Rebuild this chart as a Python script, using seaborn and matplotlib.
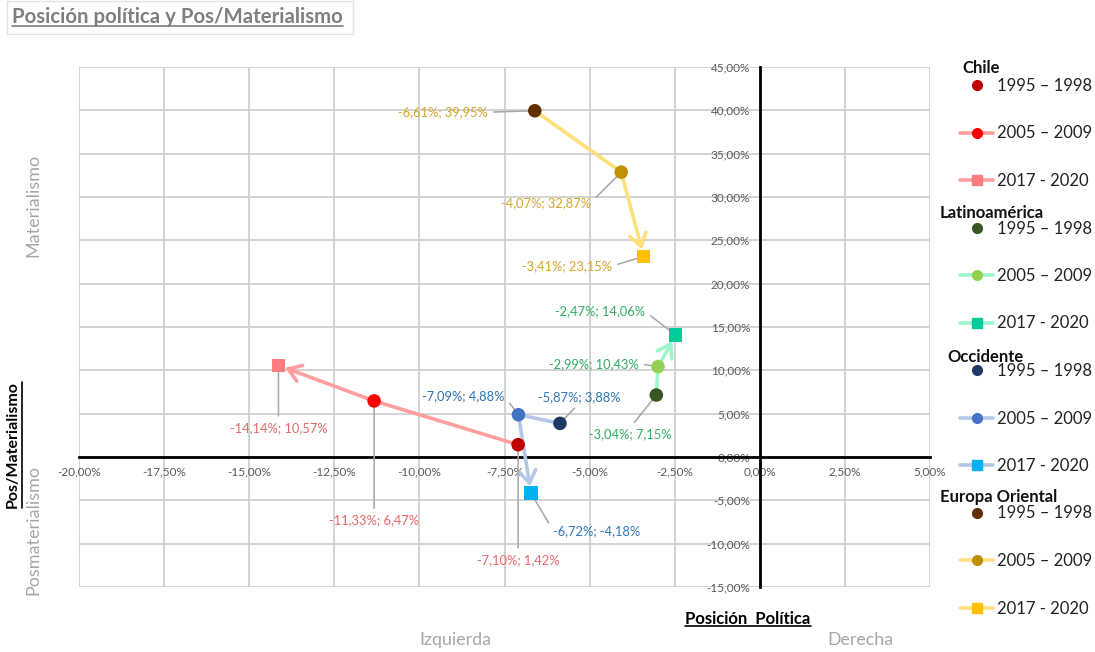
import matplotlib
matplotlib.use("Agg")
import matplotlib.pyplot as plt
import seaborn as sns
import pandas as pd
from matplotlib.lines import Line2D
from matplotlib.patches import Rectangle
from matplotlib.ticker import FuncFormatter, MultipleLocator

# ---------------- data ----------------
groups = ["Chile", "Latinoamérica", "Occidente", "Europa Oriental"]
periods = ["1995 – 1998", "2005 – 2009", "2017 - 2020"]
chile_x = [-7.10, -11.33, -14.14]
chile_y = [1.42, 6.47, 10.57]
latam_x = [-3.04, -2.99, -2.47]
latam_y = [7.15, 10.43, 14.06]
occ_x = [-5.87, -7.09, -6.72]
occ_y = [3.88, 4.88, -4.18]
eur_x = [-6.61, -4.07, -3.41]
eur_y = [39.95, 32.87, 23.15]
xs = [chile_x, latam_x, occ_x, eur_x]
ys = [chile_y, latam_y, occ_y, eur_y]

# ---------------- styles ----------------
marker_colors = [["#C00000", "#FF0000", "#FF7C80"],
                 ["#375623", "#92D050", "#00CC99"],
                 ["#203864", "#4472C4", "#00B0F0"],
                 ["#603000", "#BF9000", "#FFC000"]]
line_colors = ["#FF9E9E", "#9EF7CB", "#B4C7E7", "#FFE07A"]
label_colors = ["#E8666A", "#2EAE62", "#2E75B6", "#D6A52A"]
# label offsets (points) and alignment per point
label_pos = [
    [((0, -83), "center", (0.5, 1.0)), ((0, -86), "center", (0.5, 1.0)), ((0, -45), "center", (0.5, 1.0))],
    [((-19, -28), "center", (0.5, 1.0)), ((-14, 2), "right", (1.0, 0.5)), ((-22, 17), "right", (1.0, 0.5))],
    [((14, 19), "center", (0.5, 0.0)), ((-10, 13), "right", (1.0, 0.5)), ((16, -27), "left", (0.0, 0.5))],
    [((-34, -1), "right", (1.0, 0.5)), ((-22, -22), "right", (1.0, 0.5)), ((-23, -7), "right", (1.0, 0.5))],
]

sns.set_theme(style="white")
plt.rcParams["font.family"] = ["Lato", "DejaVu Sans"]

W, H = 1095, 652
fig = plt.figure(figsize=(W / 100, H / 100), dpi=100, facecolor="white")
ax = fig.add_axes([79 / W, 1 - 587 / H, (930 - 79) / W, (587 - 67) / H])

rows = []
for gi, g in enumerate(groups):
    for pi, p in enumerate(periods):
        rows.append({"x": xs[gi][pi], "y": ys[gi][pi], "key": f"{g}|{p}",
                     "per": p})
df = pd.DataFrame(rows)
palette = {f"{g}|{p}": marker_colors[gi][pi] for gi, g in enumerate(groups)
           for pi, p in enumerate(periods)}
markers = {periods[0]: "o", periods[1]: "o", periods[2]: "s"}

# lines and arrows
for gi in range(4):
    gx, gy = xs[gi], ys[gi]
    ax.plot(gx[:2], gy[:2], color=line_colors[gi], lw=2.6, zorder=3,
            solid_capstyle="butt")
    ax.annotate("", xy=(gx[2], gy[2]), xytext=(gx[1], gy[1]),
                arrowprops=dict(arrowstyle="->,head_length=0.45,head_width=0.3",
                                color=line_colors[gi], lw=2.6, shrinkA=0,
                                shrinkB=5, mutation_scale=20),
                zorder=3)

sns.scatterplot(data=df, x="x", y="y", hue="key", style="per", palette=palette,
                markers=markers, s=95, edgecolor=None, linewidth=0,
                legend=False, ax=ax, zorder=5)

def fmt(v):
    return f"{v:.2f}".replace(".", ",") + "%"

for gi in range(4):
    for pi in range(3):
        (dx, dy), ha, rel = label_pos[gi][pi]
        ax.annotate(f"{fmt(xs[gi][pi])}; {fmt(ys[gi][pi])}",
                    xy=(xs[gi][pi], ys[gi][pi]), xytext=(dx, dy),
                    textcoords="offset points", ha=ha, va="center",
                    fontsize=9.3, color=label_colors[gi], zorder=4,
                    arrowprops=dict(arrowstyle="-", color="#A6A6A6", lw=1.1,
                                    shrinkA=2, shrinkB=0, relpos=rel))

# axes
ax.set_xlim(-20, 5)
ax.set_ylim(-15, 45)
ax.xaxis.set_major_locator(MultipleLocator(2.5))
ax.yaxis.set_major_locator(MultipleLocator(5))
pct = FuncFormatter(lambda v, p: f"{v:.2f}".replace(".", ",").replace("-0,00", "0,00") + "%")
ax.xaxis.set_major_formatter(pct)
ax.yaxis.set_major_formatter(pct)
ax.grid(True, color="#D0D0D0", lw=1.3)
ax.set_axisbelow(True)
for s in ["top", "right"]:
    ax.spines[s].set_visible(False)
ax.spines["left"].set_position(("data", 0))
ax.spines["bottom"].set_position(("data", 0))
for s in ["left", "bottom"]:
    ax.spines[s].set_color("black")
    ax.spines[s].set_linewidth(2)
    ax.spines[s].set_zorder(2)
ax.tick_params(axis="both", length=0, labelsize=8.5, labelcolor="#595959", pad=7)
ax.set_xlabel("")
ax.set_ylabel("")

# legend
handles = []
for gi in range(4):
    for pi in range(3):
        if pi == 0:
            h = Line2D([], [], ls="none", marker="o", ms=7,
                       color=marker_colors[gi][pi], mec=marker_colors[gi][pi])
        else:
            h = Line2D([], [], ls="-", lw=2.6, color=line_colors[gi],
                       marker=markers[periods[pi]], ms=7,
                       mfc=marker_colors[gi][pi], mec=marker_colors[gi][pi])
        handles.append(h)
labels = periods * 4
leg = fig.legend(handles, labels, loc="upper left",
                 bbox_to_anchor=(960 / W, 1 - 78 / H), frameon=False,
                 fontsize=12, labelspacing=1.89, handlelength=2.0,
                 handletextpad=0.2, borderpad=0, borderaxespad=0)
for t in leg.get_texts():
    t.set_color("#222222")

head_pos = [(962, 68), (940, 213), (947, 357), (940, 497)]
for g, (px, py) in zip(groups, head_pos):
    fig.text(px / W, 1 - py / H, g, fontsize=12, fontweight="bold",
             color="#111111", ha="left", va="center")

# texts
title = fig.text(12 / W, 1 - 17 / H, "Posición política y Pos/Materialismo",
                 fontsize=14.7, fontweight="bold", color="#7F7F7F",
                 ha="left", va="center")
fig.add_artist(Rectangle((7 / W, 1 - 34 / H), 346 / W, 33 / H,
                         transform=fig.transFigure, fill=False,
                         ec="#E3E3E3", lw=1))
xl = fig.text(748 / W, 1 - 619 / H, "Posición  Política", fontsize=12,
              fontweight="bold", color="black", ha="center", va="center")
yl = fig.text(13 / W, 1 - 445 / H, "Pos/Materialismo", fontsize=11.5,
              fontweight="bold", color="black", ha="center", va="center",
              rotation=90)
fig.text(455 / W, 1 - 640 / H, "Izquierda", fontsize=12.8, color="#A6A6A6",
         ha="center", va="center")
fig.text(860 / W, 1 - 640 / H, "Derecha", fontsize=12.8, color="#A6A6A6",
         ha="center", va="center")
fig.text(33 / W, 1 - 205 / H, "Materialismo", fontsize=13, color="#A6A6A6",
         ha="center", va="center", rotation=90)
fig.text(33 / W, 1 - 530 / H, "Posmaterialismo", fontsize=13, color="#A6A6A6",
         ha="center", va="center", rotation=90)

# underline helper
fig.canvas.draw()
r = fig.canvas.get_renderer()
inv = fig.transFigure.inverted()
for t, col, vertical in [(title, "#7F7F7F", False), (xl, "black", False),
                         (yl, "black", True)]:
    bb = t.get_window_extent(renderer=r)
    (x0, y0), (x1, y1) = inv.transform([(bb.x0, bb.y0), (bb.x1, bb.y1)])
    if vertical:
        xx = x1 + 1.5 / W
        fig.add_artist(Line2D([xx, xx], [y0, y1], transform=fig.transFigure,
                              color=col, lw=1.2))
    else:
        yy = y0 + 1.5 / H
        fig.add_artist(Line2D([x0, x1], [yy, yy], transform=fig.transFigure,
                              color=col, lw=1.2))

fig.savefig("out.png", dpi=100, facecolor="white")
